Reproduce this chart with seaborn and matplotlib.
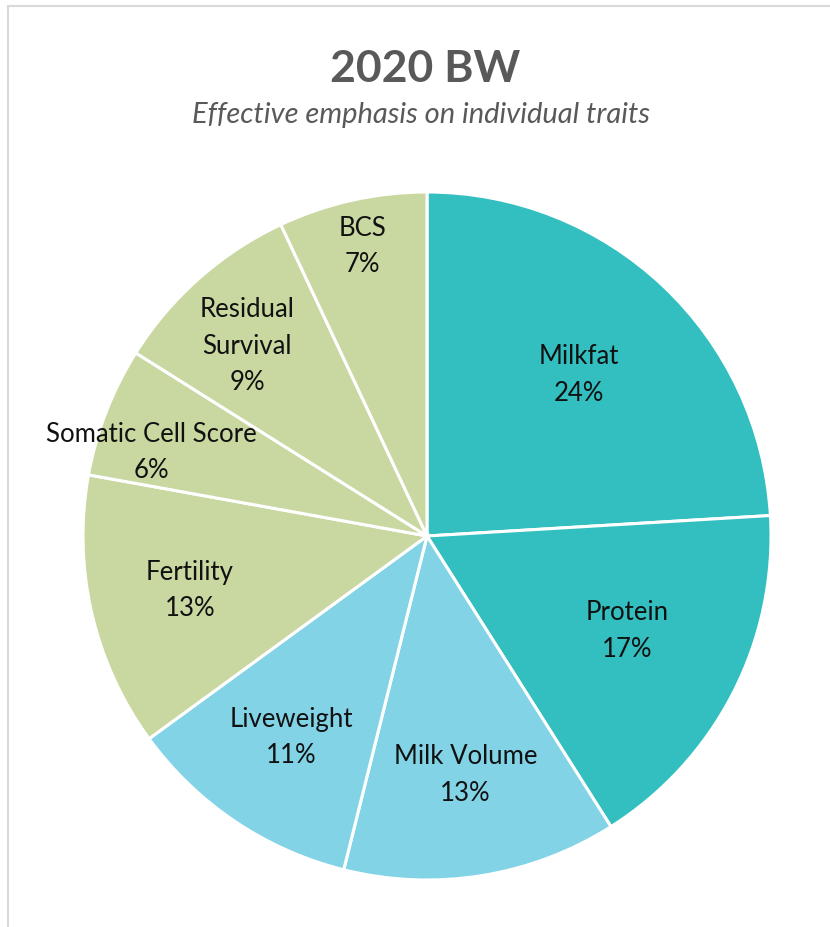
import matplotlib
matplotlib.use("Agg")
import matplotlib.pyplot as plt
import seaborn as sns
import numpy as np
from matplotlib.lines import Line2D

sns.set_theme(style="white")
plt.rcParams['font.family'] = ['Lato', 'DejaVu Sans']

# ---- data ----
traits = ["Milkfat", "Protein", "Milk Volume", "Liveweight", "Fertility",
          "Somatic Cell Score", "Residual Survival", "BCS"]
label_text = ["Milkfat", "Protein", "Milk Volume", "Liveweight", "Fertility",
              "Somatic Cell Score", "Residual\nSurvival", "BCS"]
emphasis = [24.1, 17.0, 12.9, 11.1, 12.9, 6.1, 9.1, 7.0]
pct_labels = ["24%", "17%", "13%", "11%", "13%", "6%", "9%", "7%"]

# ---- style ----
teal = "#33BEC0"
light_blue = "#82D3E6"
sage = "#C9D7A1"
colors = [teal, teal, light_blue, light_blue, sage, sage, sage, sage]
label_radius = [0.643, 0.645, 0.703, 0.706, 0.707, 0.837, 0.76, 0.862]
label_angle_shift = [0, 1.8, 0, 0, 0, 4.3, 2.0, 0]

W, H = 830, 927
fig = plt.figure(figsize=(W / 100, H / 100), dpi=100)
fig.patch.set_facecolor("white")

# pie axes: centre (427, 536) px, radius 344 px
cx, cy, r = 427, 536, 344
ax = fig.add_axes([(cx - r) / W, 1 - (cy + r) / H, 2 * r / W, 2 * r / H])
wedges, _ = ax.pie(emphasis, colors=colors, startangle=90, counterclock=False,
                   wedgeprops=dict(edgecolor="white", linewidth=2.2))
ax.set_xlim(-1, 1)
ax.set_ylim(-1, 1)
ax.set_aspect("equal")
ax.axis("off")

for w, name, pct, lr, da in zip(wedges, label_text, pct_labels, label_radius, label_angle_shift):
    mid = np.deg2rad((w.theta1 + w.theta2) / 2 + da)
    x, y = lr * np.cos(mid), lr * np.sin(mid)
    ax.text(x, y, f"{name}\n{pct}", ha="center", va="center",
            fontsize=18.5, color="#111111", linespacing=1.58)

# title & subtitle
fig.text(cx / W - 0.002, 1 - 69 / H, "2020 BW", ha="center", va="center",
         fontsize=32, fontweight="bold", color="#595959")
fig.text(0.507, 1 - 115 / H, "Effective emphasis on individual traits",
         ha="center", va="center", fontsize=21, style="italic", color="#595959")

# chart frame (top and left edges visible)
fig.add_artist(Line2D([7.5 / W, 1], [1 - 6 / H, 1 - 6 / H], transform=fig.transFigure,
                      color="#d9d9d9", linewidth=1.5))
fig.add_artist(Line2D([7.5 / W, 7.5 / W], [0, 1 - 6 / H], transform=fig.transFigure,
                      color="#d9d9d9", linewidth=1.5))

fig.savefig("out.png", dpi=100, facecolor="white")
